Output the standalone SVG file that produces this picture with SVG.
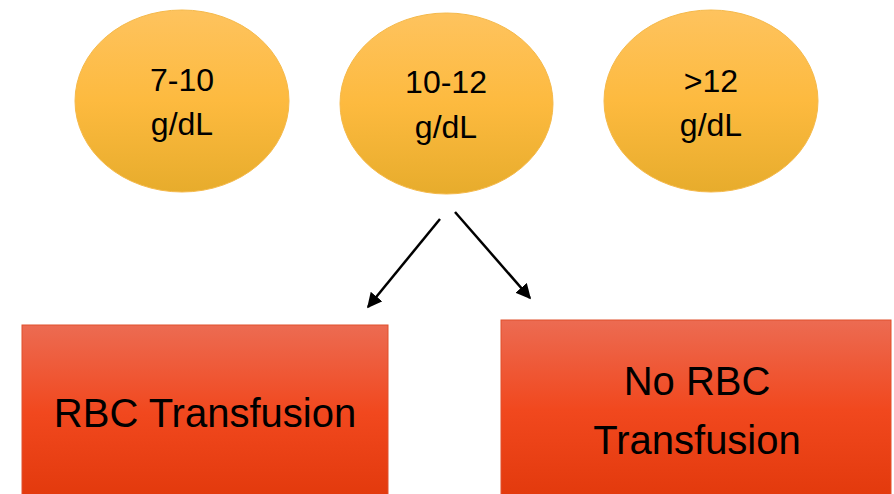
<svg xmlns="http://www.w3.org/2000/svg" width="894" height="494" viewBox="0 0 894 494">
  <style>
    .lvl { stroke: #F5B94A; stroke-width: 1; }
    .box { stroke: #E0512C; stroke-width: 1; }
    .lbl { font-family: "Liberation Sans", Arial, sans-serif; fill: #000; text-anchor: middle; }
    .edge { stroke: #000; stroke-width: 2.5; fill: none; marker-end: url(#head); }
  </style>
  <defs>
    <linearGradient id="gold" x1="0" y1="0" x2="0" y2="1">
      <stop offset="0" stop-color="#FEC35E"/>
      <stop offset="0.5" stop-color="#FDBA3F"/>
      <stop offset="1" stop-color="#E7AC2C"/>
    </linearGradient>
    <linearGradient id="red" x1="0" y1="0" x2="0" y2="1">
      <stop offset="0" stop-color="#EC6B52"/>
      <stop offset="0.5" stop-color="#F1481E"/>
      <stop offset="1" stop-color="#E2390C"/>
    </linearGradient>
    <marker id="head" viewBox="0 0 10 10" refX="9" refY="5" markerWidth="6" markerHeight="6" orient="auto" markerUnits="strokeWidth">
      <path d="M0,0 L10,5 L0,10 Z" fill="#000"/>
    </marker>
  </defs>

  <g id="hb-7-10">
    <ellipse class="lvl" cx="182" cy="101" rx="107" ry="91" fill="url(#gold)"/>
    <text class="lbl" x="182" y="91" font-size="32">7-10</text>
    <text class="lbl" x="182" y="135" font-size="32">g/dL</text>
  </g>

  <g id="hb-10-12">
    <ellipse class="lvl" cx="446.5" cy="103.5" rx="106.5" ry="90.5" fill="url(#gold)"/>
    <text class="lbl" x="446" y="93" font-size="32">10-12</text>
    <text class="lbl" x="446" y="138" font-size="32">g/dL</text>
  </g>

  <g id="hb-over-12">
    <ellipse class="lvl" cx="711" cy="101" rx="107" ry="91" fill="url(#gold)"/>
    <text class="lbl" x="711" y="92" font-size="32">&gt;12</text>
    <text class="lbl" x="711" y="136" font-size="32">g/dL</text>
  </g>

  <g id="rbc-transfusion">
    <rect class="box" x="22" y="325" width="366" height="175" fill="url(#red)"/>
    <text class="lbl" x="205" y="427" font-size="40">RBC Transfusion</text>
  </g>

  <g id="no-rbc-transfusion">
    <rect class="box" x="501" y="320" width="390" height="180" fill="url(#red)"/>
    <text class="lbl" x="697" y="395" font-size="40">No RBC</text>
    <text class="lbl" x="697" y="454" font-size="40">Transfusion</text>
  </g>

  <g id="connectors">
    <line class="edge" x1="440" y1="219" x2="368" y2="307"/>
    <line class="edge" x1="455" y1="212" x2="530" y2="298"/>
  </g>
</svg>
